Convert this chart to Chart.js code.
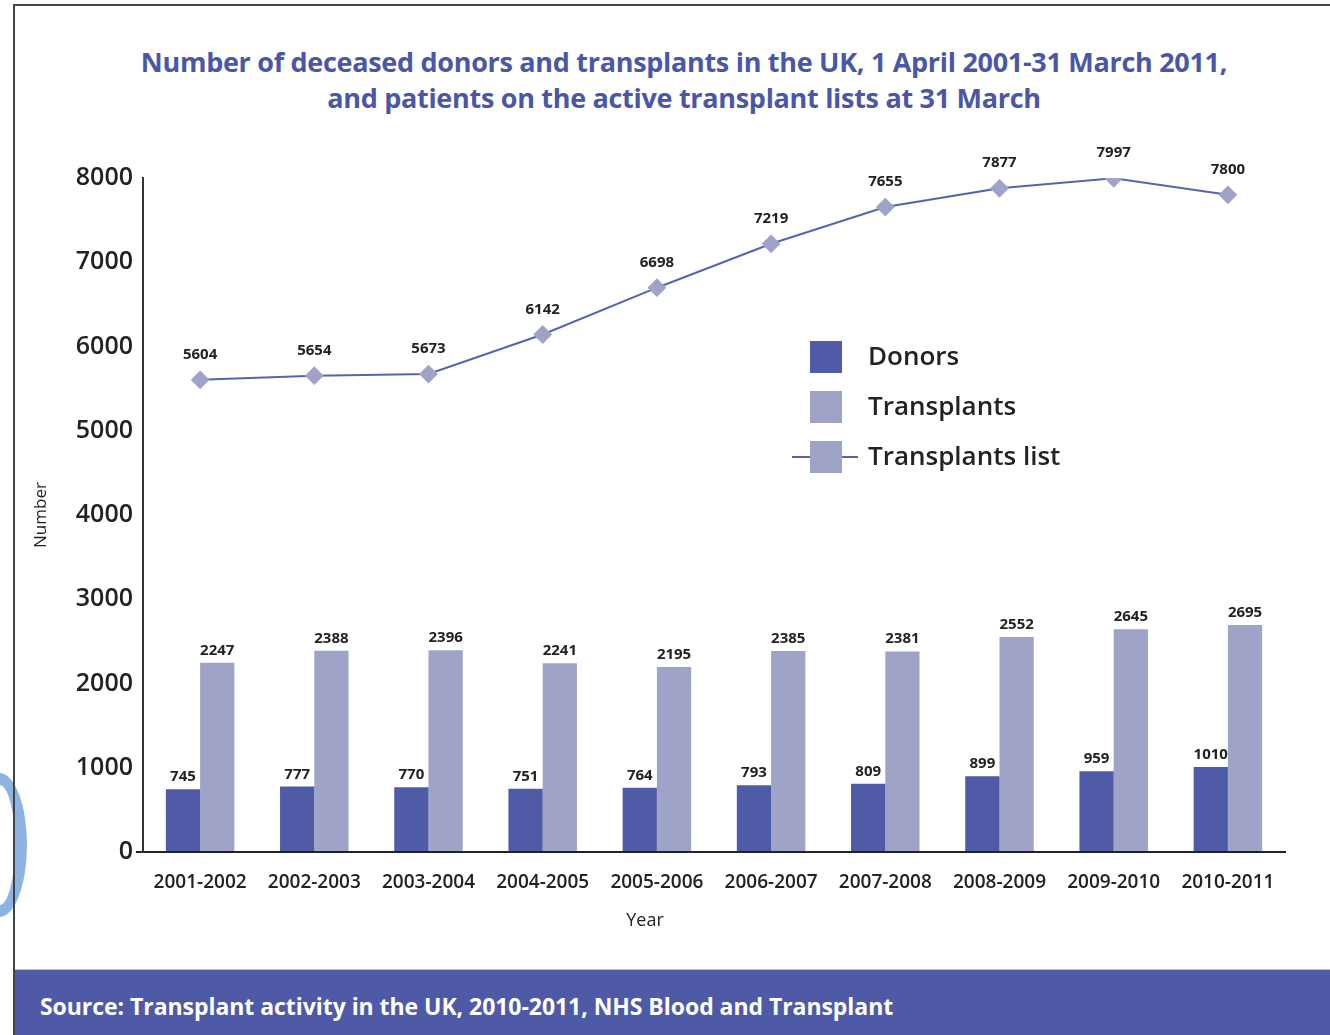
<!DOCTYPE html>
<html>
<head>
<meta charset="utf-8">
<script src="https://cdn.jsdelivr.net/npm/chart.js@4/dist/chart.umd.min.js"></script>
<style>
  html, body { margin: 0; padding: 0; background: #fff; }
  body { width: 1330px; height: 1035px; position: relative; overflow: hidden; font-family: "Open Sans", sans-serif; }
  #frame { position: absolute; left: 13px; top: 4px; width: 1330px; height: 1040px; border-left: 2px solid #444; border-top: 2px solid #444; box-sizing: border-box; z-index: 5; pointer-events: none; }
  #title { position: absolute; left: 14px; width: 1340px; top: 44px; text-align: center; color: #4a56a6; font-weight: 700; font-size: 27px; line-height: 36px; letter-spacing: -0.3px; }
  #wrap { position: absolute; left: 0; top: 0; width: 1330px; height: 970px; }
  #footer { position: absolute; left: 15px; top: 969px; width: 1320px; height: 70px; background: #4e5aa6; border-top: 1px solid #b9bedc; box-sizing: border-box; }
  #footer span { position: absolute; left: 25px; top: 20px; color: #fff; font-family: "Open Sans", sans-serif; font-weight: 700; font-size: 23px; letter-spacing: -0.05px; }
  #arc { position: absolute; left: -28px; top: 773px; width: 31px; height: 120px; border: 12px solid #8db3e2; border-radius: 50%; box-sizing: content-box; z-index: 2; }
</style>
</head>
<body>
<div id="frame"></div>
<div id="title">Number of deceased donors and transplants in the UK, 1 April 2001-31 March 2011,<br>and patients on the active transplant lists at 31 March</div>
<div id="wrap"><canvas id="c" width="1330" height="970"></canvas></div>
<div id="footer"><span>Source: Transplant activity in the UK, 2010-2011, NHS Blood and Transplant</span></div>
<div id="arc"></div>
<script>
const years = ["2001-2002","2002-2003","2003-2004","2004-2005","2005-2006","2006-2007","2007-2008","2008-2009","2009-2010","2010-2011"];
const donors = [745, 777, 770, 751, 764, 793, 809, 899, 959, 1010];
const transplants = [2247, 2388, 2396, 2241, 2195, 2385, 2381, 2552, 2645, 2695];
const transplantList = [5604, 5654, 5673, 6142, 6698, 7219, 7655, 7877, 7997, 7800];
const yTicks = [0, 1000, 2000, 3000, 4000, 5000, 6000, 7000, 8000];

const DONOR_COLOR = "#4f5ba6";
const TRANS_COLOR = "#a0a3c8";
const LINE_COLOR = "#5563b0";
const TEXT = "#222";

const valueLabels = {
  id: "valueLabels",
  afterDatasetsDraw(chart) {
    const ctx = chart.ctx;
    ctx.save();
    ctx.fillStyle = TEXT;
    ctx.font = "700 15px 'Open Sans', sans-serif";
    ctx.textAlign = "center";
    ctx.textBaseline = "alphabetic";
    chart.data.datasets.forEach((ds, di) => {
      const meta = chart.getDatasetMeta(di);
      meta.data.forEach((el, i) => {
        const v = ds.data[i];
        const off = ds.type === "line" ? 21 : 8;
        ctx.fillText(String(v), el.x, el.y - off);
      });
    });
    ctx.restore();
  }
};

const customLegend = {
  id: "customLegend",
  afterDraw(chart) {
    const ctx = chart.ctx;
    const x = 810, size = 32, tx = 868;
    const rows = [
      { label: "Donors", color: DONOR_COLOR, y: 357, line: false },
      { label: "Transplants", color: TRANS_COLOR, y: 407, line: false },
      { label: "Transplants list", color: TRANS_COLOR, y: 457, line: true }
    ];
    ctx.save();
    rows.forEach(r => {
      if (r.line) {
        ctx.strokeStyle = LINE_COLOR;
        ctx.lineWidth = 2;
        ctx.beginPath();
        ctx.moveTo(792, r.y);
        ctx.lineTo(858, r.y);
        ctx.stroke();
      }
      ctx.fillStyle = r.color;
      ctx.fillRect(x, r.y - size / 2, size, size);
      ctx.fillStyle = TEXT;
      ctx.font = "600 26px 'Open Sans', sans-serif";
      ctx.textAlign = "left";
      ctx.textBaseline = "middle";
      ctx.fillText(r.label, tx, r.y + 1);
    });
    // x axis title
    ctx.font = "400 18px 'Open Sans', sans-serif";
    ctx.textAlign = "center";
    ctx.textBaseline = "middle";
    ctx.fillText("Year", 645, 921);
    ctx.restore();
  }
};

new Chart(document.getElementById("c"), {
  data: {
    labels: years,
    datasets: [
      { type: "line", label: "Transplants list", data: transplantList, borderColor: LINE_COLOR, borderWidth: 2,
        pointStyle: "rectRot", pointRadius: 8, pointBackgroundColor: TRANS_COLOR, pointBorderColor: TRANS_COLOR,
        tension: 0, order: 0 },
      { type: "bar", label: "Donors", data: donors, backgroundColor: DONOR_COLOR, categoryPercentage: 0.6, barPercentage: 1, order: 1 },
      { type: "bar", label: "Transplants", data: transplants, backgroundColor: TRANS_COLOR, categoryPercentage: 0.6, barPercentage: 1, order: 1 }
    ]
  },
  options: {
    responsive: false,
    animation: false,
    layout: { padding: { left: 31, right: 45, top: 178, bottom: 36 } },
    plugins: { legend: { display: false }, tooltip: { enabled: false }, title: { display: false } },
    scales: {
      x: {
        grid: { display: false, drawTicks: false },
        border: { display: true, color: "#222", width: 2 },
        ticks: { color: TEXT, font: { family: "'Open Sans', sans-serif", size: 19, weight: "600" }, padding: 19, maxRotation: 0, autoSkip: false },
        title: { display: false },
        afterFit(s) { s.height = 82; }
      },
      y: {
        min: 0, max: 8000,
        afterBuildTicks(s) { s.ticks = yTicks.map(v => ({ value: v })); },
        grid: { display: true, drawOnChartArea: false, drawTicks: true, tickLength: 7, lineWidth: 2,
                color: c => (c.tick && c.tick.value === 0) ? "#222" : "rgba(0,0,0,0)" },
        border: { display: true, color: "#333", width: 2 },
        ticks: { color: TEXT, font: { family: "'Open Sans', sans-serif", size: 25, weight: "600" }, padding: 3,
                 callback: v => String(v) },
        title: { display: true, text: "Number", color: TEXT, font: { family: "'Open Sans', sans-serif", size: 17 }, padding: { top: 0, bottom: 0 } },
        afterFit(s) { s.width = 112; }
      }
    }
  },
  plugins: [valueLabels, customLegend]
});
</script>
</body>
</html>
